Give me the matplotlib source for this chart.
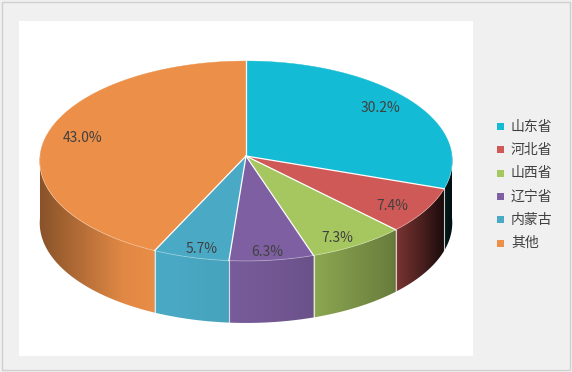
import numpy as np
import matplotlib
matplotlib.use("Agg")
import matplotlib.pyplot as plt
from matplotlib.patches import Polygon, Rectangle
from matplotlib.colors import to_rgb

plt.rcParams['font.family'] = ['Noto Sans CJK SC', 'DejaVu Sans']

# Data
provinces = ['山东省', '河北省', '山西省', '辽宁省', '内蒙古', '其他']
shares = [30.2, 7.4, 7.3, 6.3, 5.7, 43.0]
labels = ['30.2%', '7.4%', '7.3%', '6.3%', '5.7%', '43.0%']
colors = ['#13BBD4', '#CF5956', '#A6C660', '#7E60A2', '#4AAAC6', '#EC8F48']

W, H = 572, 372
fig = plt.figure(figsize=(W / 100, H / 100), dpi=100)
fig.patch.set_facecolor('#F0F0F0')
ax = fig.add_axes([0, 0, 1, 1])
ax.set_xlim(0, W)
ax.set_ylim(H, 0)
ax.axis('off')

# Chart frame and white plot area
ax.add_patch(Rectangle((1.5, 1.5), W - 3.5, H - 3.5, facecolor='#F0F0F0',
                       edgecolor='#D0D0D0', lw=1.0, zorder=0))
ax.add_patch(Rectangle((19, 21), 454, 335, facecolor='white',
                       edgecolor='none', zorder=1))

# Pie geometry (pixel space) with a light perspective tilt
cx, cy = 246.0, 156.0
A, B = 206.0, 99.7
k = 0.05
depth = 62.0


def proj(theta_deg, r=1.0, dz=0.0):
    t = np.radians(theta_deg)
    u = r * np.cos(t)
    v = r * np.sin(t)
    s = 1.0 / (1.0 + k * v)
    return cx + A * u * s, cy - B * v * s + dz


# Side lighting, as a function of horizontal position on the rim
light_u = [-1.0, -0.85, -0.6, -0.4, 0.0, 0.3, 0.55, 0.7, 0.85, 0.95, 1.0]
light_f = [0.58, 0.72, 0.95, 1.0, 0.94, 0.86, 0.72, 0.64, 0.36, 0.14, 0.08]

total = sum(shares)
spans = [360.0 * s / total for s in shares]
starts = 90.0 - np.concatenate([[0.0], np.cumsum(spans)[:-1]])
ends = starts - np.array(spans)

# Side walls (front half only), shaded with a horizontal gradient
for st, en, col in zip(starts, ends, colors):
    base = np.array(to_rgb(col))
    th = np.linspace(st, en, 400)
    front = th[np.sin(np.radians(th)) < 0]
    if front.size < 2:
        continue
    top = np.array([proj(t) for t in front])
    bot = top + np.array([0.0, depth])
    outline = np.vstack([top, bot[::-1]])
    x0, x1 = outline[:, 0].min() - 1, outline[:, 0].max() + 1
    y0, y1 = outline[:, 1].min() - 1, outline[:, 1].max() + 1
    xs = np.linspace(x0, x1, 300)
    u = np.clip((xs - cx) / A, -1, 1)
    f = np.interp(u, light_u, light_f)
    img = np.clip(base[None, None, :] * f[None, :, None], 0, 1)
    img = np.repeat(img, 2, axis=0)
    clip = Polygon(outline, closed=True, facecolor='none', edgecolor='none',
                   transform=ax.transData)
    im = ax.imshow(img, extent=(x0, x1, y1, y0), aspect='auto',
                   interpolation='bilinear', zorder=2)
    im.set_clip_path(clip)

ax.set_xlim(0, W)
ax.set_ylim(H, 0)

# Light seams on the side at slice boundaries
for b in list(starts):
    if np.sin(np.radians(b)) < -0.02:
        xb, yb = proj(b)
        ax.plot([xb, xb], [yb, yb + depth], color='white', lw=0.8,
                alpha=0.75, zorder=3)

# Top faces
for st, en, col in zip(starts, ends, colors):
    th = np.linspace(st, en, 200)
    pts = [(cx, cy)] + [proj(t) for t in th]
    ax.add_patch(Polygon(pts, closed=True, facecolor=col, edgecolor=col,
                         lw=0.3, zorder=4))

# White separators on the top face
for b in starts:
    xb, yb = proj(b)
    ax.plot([cx, xb], [cy, yb], color='white', lw=0.9, zorder=5)

# Subtle highlight along the front rim
th = np.linspace(-180, 0, 300)
rim = np.array([proj(t) for t in th])
ax.plot(rim[:, 0], rim[:, 1], color='white', lw=0.6, alpha=0.35, zorder=5)

# Percentage labels: placed inside each slice, nudged down toward the front
for st, en, lab in zip(starts, ends, labels):
    mid = 0.5 * (st + en)
    x, y = proj(mid, r=0.82)
    y += 11.0 * max(0.0, -np.sin(np.radians(mid))) - 3.0 * max(0.0, np.sin(np.radians(mid)))
    ax.text(x, y, lab, ha='center', va='center', fontsize=10,
            color='#404040', zorder=6)

# Legend
for i, (name, col) in enumerate(zip(provinces, colors)):
    yc = 126.5 + 23.3 * i
    ax.add_patch(Rectangle((496.5, yc - 3.5), 7, 7, facecolor=col,
                           edgecolor='none', zorder=6))
    ax.text(511, yc, name, ha='left', va='center', fontsize=10,
            color='#404040', zorder=6)

fig.savefig('out.png', dpi=100, facecolor=fig.get_facecolor())
